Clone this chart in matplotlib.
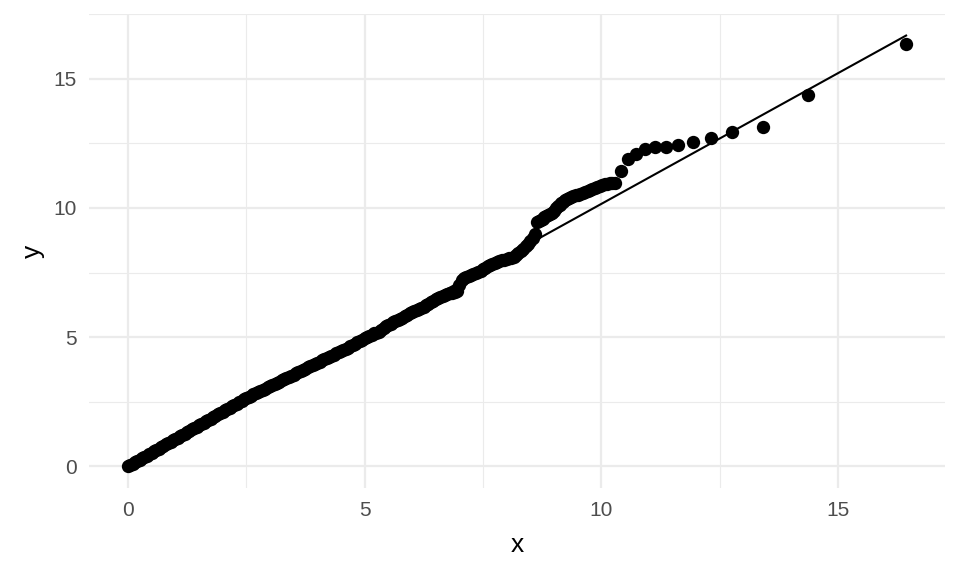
import matplotlib
matplotlib.use("Agg")
import matplotlib.pyplot as plt
from matplotlib.ticker import MultipleLocator

# Theoretical quantiles (x) and sample quantiles (y)
theoretical = [
    0.00, 0.05, 0.10, 0.15, 0.20, 0.25, 0.30, 0.35, 0.40, 0.45,
    0.50, 0.55, 0.60, 0.65, 0.70, 0.75, 0.80, 0.85, 0.90, 0.95,
    1.00, 1.05, 1.10, 1.15, 1.20, 1.25, 1.30, 1.35, 1.40, 1.45,
    1.50, 1.55, 1.60, 1.65, 1.70, 1.75, 1.80, 1.85, 1.90, 1.95,
    2.00, 2.05, 2.10, 2.15, 2.20, 2.25, 2.30, 2.35, 2.40, 2.45,
    2.50, 2.55, 2.60, 2.65, 2.70, 2.75, 2.80, 2.85, 2.90, 2.95,
    3.00, 3.05, 3.10, 3.15, 3.20, 3.25, 3.30, 3.35, 3.40, 3.45,
    3.50, 3.55, 3.60, 3.65, 3.70, 3.75, 3.80, 3.85, 3.90, 3.95,
    4.00, 4.05, 4.10, 4.15, 4.20, 4.25, 4.30, 4.35, 4.40, 4.45,
    4.50, 4.55, 4.60, 4.65, 4.70, 4.75, 4.80, 4.85, 4.90, 4.95,
    5.00, 5.05, 5.10, 5.15, 5.20, 5.25, 5.30, 5.35, 5.40, 5.45,
    5.50, 5.55, 5.60, 5.65, 5.70, 5.75, 5.80, 5.85, 5.90, 5.95,
    6.00, 6.05, 6.10, 6.15, 6.20, 6.25, 6.30, 6.35, 6.40, 6.45,
    6.50, 6.55, 6.60, 6.65, 6.70, 6.75, 6.80, 6.85, 6.90, 6.95,
    7.00, 7.05, 7.10, 7.15, 7.20, 7.25, 7.30, 7.35, 7.40, 7.45,
    7.50, 7.55, 7.60, 7.65, 7.70, 7.75, 7.80, 7.85, 7.90, 7.95,
    8.00, 8.05, 8.10, 8.15, 8.20, 8.25, 8.30, 8.35, 8.40, 8.45,
    8.50, 8.55, 8.60,
    8.65, 8.69, 8.72, 8.76, 8.80, 8.84, 8.88, 8.92, 8.96, 9.00,
    9.04, 9.08, 9.12, 9.16, 9.20, 9.24, 9.28, 9.32, 9.36, 9.41,
    9.46, 9.51, 9.56, 9.61, 9.66, 9.71, 9.76, 9.81, 9.86, 9.92,
    9.97, 10.02, 10.07, 10.12, 10.18, 10.23, 10.29,
    10.41, 10.56, 10.73, 10.93, 11.13, 11.36, 11.63, 11.94, 12.31, 12.77,
    13.41, 14.37, 16.44,
]
sample = [
    0.00, 0.05, 0.10, 0.16, 0.21, 0.26, 0.32, 0.37, 0.42, 0.48,
    0.53, 0.58, 0.63, 0.69, 0.74, 0.79, 0.85, 0.90, 0.95, 1.01,
    1.06, 1.11, 1.16, 1.22, 1.27, 1.32, 1.38, 1.43, 1.48, 1.53,
    1.59, 1.64, 1.69, 1.75, 1.80, 1.85, 1.91, 1.96, 2.01, 2.06,
    2.12, 2.17, 2.22, 2.28, 2.33, 2.38, 2.43, 2.49, 2.54, 2.60,
    2.65, 2.70, 2.74, 2.79, 2.83, 2.88, 2.92, 2.97, 3.01, 3.06,
    3.10, 3.15, 3.19, 3.24, 3.28, 3.33, 3.37, 3.42, 3.46, 3.51,
    3.55, 3.60, 3.64, 3.69, 3.73, 3.78, 3.83, 3.88, 3.92, 3.97,
    4.01, 4.06, 4.10, 4.15, 4.19, 4.24, 4.28, 4.33, 4.37, 4.42,
    4.46, 4.49, 4.53, 4.60, 4.66, 4.70, 4.75, 4.80, 4.85, 4.91,
    4.96, 5.00, 5.05, 5.10, 5.15, 5.18, 5.22, 5.29, 5.36, 5.42,
    5.47, 5.52, 5.57, 5.63, 5.68, 5.72, 5.76, 5.81, 5.86, 5.92,
    5.98, 6.02, 6.05, 6.09, 6.13, 6.18, 6.24, 6.30, 6.36, 6.42,
    6.48, 6.52, 6.56, 6.60, 6.63, 6.67, 6.70, 6.72, 6.74, 6.80,
    7.02, 7.22, 7.30, 7.34, 7.38, 7.42, 7.46, 7.50, 7.53, 7.58,
    7.62, 7.68, 7.74, 7.80, 7.85, 7.89, 7.92, 7.95, 7.97, 8.00,
    8.02, 8.05, 8.08, 8.12, 8.18, 8.25, 8.34, 8.43, 8.52, 8.62,
    8.72, 8.85, 8.98,
    9.44, 9.48, 9.52, 9.59, 9.66, 9.70, 9.74, 9.78, 9.82, 9.90,
    9.98, 10.06, 10.13, 10.19, 10.24, 10.29, 10.34, 10.38, 10.42, 10.46,
    10.49, 10.52, 10.55, 10.59, 10.62, 10.65, 10.68, 10.72, 10.76, 10.80,
    10.84, 10.88, 10.92, 10.94, 10.96, 10.97, 10.98,
    11.42, 11.89, 12.07, 12.28, 12.36, 12.36, 12.42, 12.54, 12.72, 12.92,
    13.15, 14.37, 16.35,
]

# Reference line (qq line) end points
line_x = [0.0, 16.44]
line_y = [0.04, 16.67]

x_ticks = [0, 5, 10, 15]
y_ticks = [0, 5, 10, 15]

plt.rcParams['font.family'] = ['Liberation Sans', 'DejaVu Sans']

fig = plt.figure(figsize=(9.6, 5.76), dpi=100)
ax = fig.add_axes([89 / 960, 1 - 488 / 576, (945 - 89) / 960, (488 - 14) / 576])

ax.scatter(theoretical, sample, s=92, color='black', linewidths=0, zorder=3)
ax.plot(line_x, line_y, color='black', linewidth=1.5, zorder=4)

xmin, xmax = min(theoretical), max(theoretical)
ymin = min(min(sample), min(line_y))
ymax = max(max(sample), max(line_y))
dx = (xmax - xmin) * 0.05
dy = (ymax - ymin) * 0.05
ax.set_xlim(xmin - dx, xmax + dx)
ax.set_ylim(ymin - dy, ymax + dy)

ax.set_xticks(x_ticks)
ax.set_yticks(y_ticks)
ax.xaxis.set_minor_locator(MultipleLocator(2.5))
ax.yaxis.set_minor_locator(MultipleLocator(2.5))
ax.grid(which='major', color='#EBEBEB', linewidth=1.6, zorder=0)
ax.grid(which='minor', color='#EBEBEB', linewidth=0.8, zorder=0)
ax.set_axisbelow(True)
for s in ax.spines.values():
    s.set_visible(False)
ax.tick_params(which='both', length=0)
ax.tick_params(axis='x', labelsize=15, labelcolor='#4D4D4D', pad=9)
ax.tick_params(axis='y', labelsize=15, labelcolor='#4D4D4D', pad=9)

ax.set_xlabel('x', fontsize=19, color='black', va='center')
ax.set_ylabel('y', fontsize=19, color='black', va='center')
ax.xaxis.set_label_coords(0.5, (488 - 545) / 474)
ax.yaxis.set_label_coords((33 - 89) / 856, 0.5)

fig.savefig('out.png', dpi=100, facecolor='white')
